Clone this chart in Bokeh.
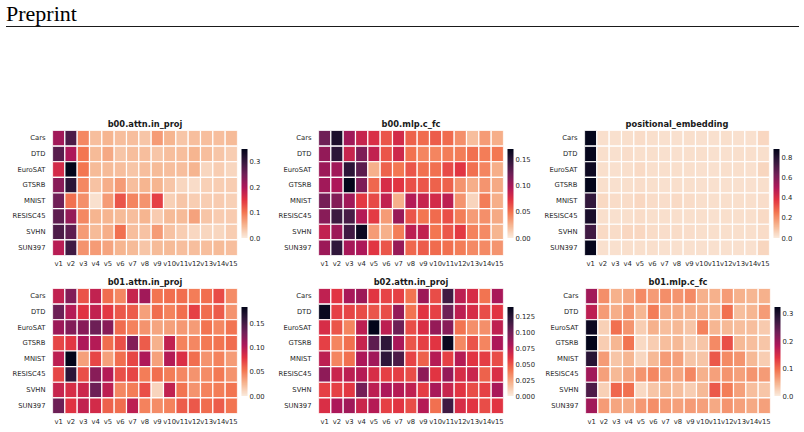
import numpy as np
from bokeh.plotting import figure
from bokeh.models import (ColumnDataSource, LinearColorMapper, ColorBar, FixedTicker,
                          PrintfTickFormatter, Div, Spacer)
from bokeh.layouts import column, row
from bokeh.embed import file_html
from bokeh.resources import INLINE
from bokeh.transform import transform

# ---------------------------------------------------------------- data
tasks = ["Cars", "DTD", "EuroSAT", "GTSRB", "MNIST", "RESISC45", "SVHN", "SUN397"]
vectors = [f"v{i}" for i in range(1, 16)]

b00_attn_in_proj = [
    [0.210, 0.280, 0.087, 0.042, 0.050, 0.042, 0.042, 0.035, 0.070, 0.050, 0.035, 0.042, 0.042, 0.042, 0.045],
    [0.270, 0.200, 0.100, 0.045, 0.060, 0.035, 0.042, 0.042, 0.035, 0.042, 0.042, 0.050, 0.042, 0.035, 0.028],
    [0.165, 0.350, 0.100, 0.045, 0.045, 0.042, 0.035, 0.042, 0.045, 0.042, 0.042, 0.050, 0.020, 0.028, 0.020],
    [0.230, 0.310, 0.085, 0.038, 0.055, 0.070, 0.042, 0.050, 0.050, 0.035, 0.020, 0.014, 0.025, 0.028, 0.028],
    [0.250, 0.105, 0.080, 0.010, 0.070, 0.125, 0.088, 0.077, 0.140, 0.025, 0.035, 0.028, 0.028, 0.030, 0.025],
    [0.265, 0.220, 0.085, 0.050, 0.050, 0.045, 0.042, 0.050, 0.030, 0.045, 0.045, 0.065, 0.035, 0.030, 0.030],
    [0.280, 0.265, 0.070, 0.045, 0.055, 0.105, 0.042, 0.038, 0.070, 0.038, 0.028, 0.018, 0.020, 0.020, 0.028],
    [0.190, 0.290, 0.077, 0.070, 0.063, 0.050, 0.045, 0.035, 0.045, 0.045, 0.042, 0.042, 0.042, 0.045, 0.042],
]

b00_mlp_c_fc = [
    [0.122, 0.158, 0.102, 0.085, 0.077, 0.061, 0.080, 0.056, 0.053, 0.058, 0.053, 0.039, 0.020, 0.034, 0.027],
    [0.107, 0.150, 0.085, 0.116, 0.088, 0.061, 0.082, 0.050, 0.043, 0.043, 0.046, 0.046, 0.051, 0.046, 0.048],
    [0.104, 0.102, 0.150, 0.130, 0.026, 0.056, 0.048, 0.061, 0.051, 0.051, 0.065, 0.073, 0.051, 0.043, 0.027],
    [0.102, 0.097, 0.170, 0.116, 0.054, 0.078, 0.073, 0.063, 0.060, 0.056, 0.056, 0.037, 0.027, 0.037, 0.029],
    [0.119, 0.114, 0.102, 0.071, 0.065, 0.088, 0.026, 0.094, 0.085, 0.080, 0.090, 0.037, 0.010, 0.046, 0.027],
    [0.112, 0.143, 0.138, 0.094, 0.070, 0.034, 0.105, 0.061, 0.049, 0.053, 0.063, 0.046, 0.034, 0.039, 0.029],
    [0.088, 0.104, 0.141, 0.165, 0.034, 0.026, 0.046, 0.090, 0.088, 0.049, 0.060, 0.071, 0.044, 0.041, 0.024],
    [0.104, 0.148, 0.099, 0.097, 0.073, 0.061, 0.105, 0.054, 0.058, 0.053, 0.051, 0.046, 0.041, 0.041, 0.037],
]

positional_embedding = [
    [0.875, 0.030, 0.025, 0.028, 0.035, 0.028, 0.025, 0.025, 0.028, 0.025, 0.025, 0.028, 0.025, 0.025, 0.045],
    [0.870, 0.030, 0.025, 0.032, 0.028, 0.028, 0.025, 0.025, 0.028, 0.028, 0.025, 0.025, 0.028, 0.028, 0.030],
    [0.850, 0.028, 0.025, 0.030, 0.040, 0.030, 0.028, 0.028, 0.028, 0.025, 0.025, 0.028, 0.028, 0.025, 0.050],
    [0.880, 0.028, 0.025, 0.030, 0.032, 0.028, 0.025, 0.028, 0.028, 0.025, 0.025, 0.025, 0.025, 0.025, 0.030],
    [0.760, 0.042, 0.035, 0.035, 0.045, 0.035, 0.032, 0.038, 0.035, 0.030, 0.028, 0.028, 0.030, 0.028, 0.032],
    [0.820, 0.028, 0.025, 0.030, 0.035, 0.030, 0.028, 0.030, 0.028, 0.028, 0.025, 0.028, 0.028, 0.028, 0.040],
    [0.730, 0.040, 0.035, 0.045, 0.045, 0.035, 0.032, 0.035, 0.032, 0.028, 0.028, 0.028, 0.028, 0.030, 0.035],
    [0.870, 0.025, 0.025, 0.028, 0.030, 0.028, 0.025, 0.025, 0.025, 0.025, 0.025, 0.025, 0.025, 0.025, 0.050],
]

b01_attn_in_proj = [
    [0.096, 0.124, 0.067, 0.096, 0.057, 0.046, 0.093, 0.111, 0.054, 0.056, 0.056, 0.050, 0.056, 0.070, 0.044],
    [0.133, 0.102, 0.080, 0.096, 0.078, 0.065, 0.063, 0.035, 0.057, 0.048, 0.056, 0.074, 0.057, 0.063, 0.041],
    [0.113, 0.124, 0.122, 0.133, 0.122, 0.057, 0.048, 0.041, 0.033, 0.035, 0.039, 0.037, 0.054, 0.046, 0.054],
    [0.072, 0.078, 0.105, 0.102, 0.057, 0.068, 0.124, 0.063, 0.028, 0.096, 0.048, 0.046, 0.052, 0.054, 0.057],
    [0.098, 0.185, 0.035, 0.072, 0.035, 0.056, 0.072, 0.105, 0.035, 0.102, 0.083, 0.056, 0.041, 0.048, 0.037],
    [0.072, 0.163, 0.068, 0.122, 0.102, 0.068, 0.072, 0.050, 0.056, 0.050, 0.046, 0.041, 0.044, 0.052, 0.041],
    [0.093, 0.085, 0.091, 0.133, 0.098, 0.046, 0.050, 0.068, 0.011, 0.096, 0.054, 0.041, 0.048, 0.050, 0.054],
    [0.133, 0.080, 0.096, 0.087, 0.061, 0.057, 0.098, 0.048, 0.044, 0.048, 0.063, 0.065, 0.057, 0.063, 0.054],
]

b02_attn_in_proj = [
    [0.073, 0.060, 0.081, 0.085, 0.060, 0.055, 0.056, 0.041, 0.085, 0.052, 0.116, 0.074, 0.064, 0.041, 0.081],
    [0.137, 0.056, 0.055, 0.052, 0.050, 0.052, 0.088, 0.041, 0.060, 0.056, 0.101, 0.074, 0.064, 0.052, 0.060],
    [0.064, 0.050, 0.035, 0.074, 0.140, 0.074, 0.101, 0.052, 0.063, 0.088, 0.092, 0.041, 0.032, 0.032, 0.073],
    [0.056, 0.035, 0.042, 0.070, 0.106, 0.123, 0.081, 0.050, 0.056, 0.060, 0.137, 0.034, 0.050, 0.035, 0.080],
    [0.074, 0.035, 0.042, 0.080, 0.084, 0.123, 0.112, 0.055, 0.046, 0.077, 0.056, 0.077, 0.060, 0.057, 0.052],
    [0.090, 0.069, 0.074, 0.077, 0.064, 0.056, 0.057, 0.052, 0.090, 0.060, 0.088, 0.064, 0.069, 0.046, 0.063],
    [0.056, 0.056, 0.059, 0.098, 0.074, 0.080, 0.077, 0.073, 0.057, 0.081, 0.070, 0.060, 0.052, 0.056, 0.081],
    [0.063, 0.080, 0.084, 0.069, 0.077, 0.056, 0.060, 0.052, 0.077, 0.042, 0.116, 0.064, 0.060, 0.052, 0.060],
]

b01_mlp_c_fc = [
    [0.195, 0.075, 0.049, 0.058, 0.078, 0.065, 0.075, 0.071, 0.078, 0.049, 0.049, 0.065, 0.049, 0.045, 0.049],
    [0.172, 0.065, 0.052, 0.071, 0.045, 0.088, 0.055, 0.055, 0.052, 0.052, 0.045, 0.097, 0.039, 0.045, 0.065],
    [0.315, 0.023, 0.097, 0.071, 0.026, 0.049, 0.039, 0.042, 0.032, 0.084, 0.045, 0.042, 0.039, 0.039, 0.029],
    [0.325, 0.026, 0.045, 0.094, 0.016, 0.026, 0.039, 0.042, 0.026, 0.032, 0.078, 0.120, 0.042, 0.039, 0.032],
    [0.290, 0.065, 0.032, 0.045, 0.019, 0.042, 0.065, 0.062, 0.032, 0.032, 0.114, 0.078, 0.071, 0.042, 0.026],
    [0.195, 0.062, 0.042, 0.058, 0.071, 0.081, 0.062, 0.058, 0.081, 0.049, 0.062, 0.071, 0.062, 0.071, 0.065],
    [0.260, 0.023, 0.104, 0.097, 0.016, 0.032, 0.045, 0.039, 0.026, 0.042, 0.114, 0.088, 0.062, 0.039, 0.032],
    [0.195, 0.065, 0.058, 0.055, 0.068, 0.075, 0.065, 0.062, 0.065, 0.062, 0.055, 0.071, 0.062, 0.055, 0.062],
]

# colour-bar tick values for each panel
ticks_b00_attn = [0.0, 0.1, 0.2, 0.3]
ticks_b00_mlp = [0.0, 0.05, 0.10, 0.15]
ticks_pos = [0.0, 0.2, 0.4, 0.6, 0.8]
ticks_b01_attn = [0.0, 0.05, 0.10, 0.15]
ticks_b02_attn = [0.0, 0.025, 0.05, 0.075, 0.10, 0.125]
ticks_b01_mlp = [0.0, 0.1, 0.2, 0.3]

# ---------------------------------------------------------------- palette
# "rocket" sequential map (dark -> light), reversed so that 0 is light
ROCKET_ANCHORS = ["#03051a", "#35193e", "#701f57", "#ad1759",
                  "#e13342", "#f37651", "#f6b48f", "#faebdd"]


def build_palette(anchors, n=256):
    rgb = np.array([[int(h[i:i + 2], 16) for i in (1, 3, 5)] for h in anchors], float)
    pos = np.linspace(0, 1, len(anchors))
    t = np.linspace(0, 1, n)
    cols = np.stack([np.interp(t, pos, rgb[:, k]) for k in range(3)], axis=1)
    return ["#%02x%02x%02x" % tuple(int(round(c)) for c in rc) for rc in cols]


ROCKET_R = build_palette(ROCKET_ANCHORS)[::-1]

FONT = "DejaVu Sans"
LABEL_SIZE = "6.8px"
TEXT_COLOR = "#262626"


def heatmap(title, values, ticks, fmt, left=47):
    vals = np.asarray(values, dtype=float)
    xs, ys, vs = [], [], []
    for r, task in enumerate(tasks):
        for c, vec in enumerate(vectors):
            xs.append(vec)
            ys.append(task)
            vs.append(vals[r, c])
    src = ColumnDataSource(dict(x=xs, y=ys, v=vs))
    mapper = LinearColorMapper(palette=ROCKET_R, low=0.0, high=float(vals.max()))

    p = figure(frame_width=185, frame_height=125, x_range=vectors, y_range=tasks[::-1],
               output_backend="svg", toolbar_location=None, title=title,
               min_border_left=left, min_border_right=34,
               min_border_top=18, min_border_bottom=15)
    p.rect(x="x", y="y", width=1, height=1, source=src,
           fill_color=transform("v", mapper), line_color="white", line_width=1.2)

    p.title.align = "center"
    p.title.text_font = FONT
    p.title.text_font_size = "8.3px"
    p.title.text_font_style = "bold"
    p.title.text_color = "#1a1a1a"
    p.title.standoff = 3

    p.outline_line_color = None
    p.grid.grid_line_color = None
    p.background_fill_color = "white"
    p.border_fill_color = "white"
    for ax in (p.xaxis, p.yaxis):
        ax.axis_line_color = None
        ax.major_tick_line_color = None
        ax.minor_tick_line_color = None
        ax.major_tick_out = 0
        ax.major_tick_in = 0
        ax.minor_tick_out = 0
        ax.minor_tick_in = 0
        ax.major_label_text_font = FONT
        ax.major_label_text_font_size = LABEL_SIZE
        ax.major_label_text_color = TEXT_COLOR
    p.xaxis.major_label_standoff = 4
    p.yaxis.major_label_standoff = 7

    cb = ColorBar(color_mapper=mapper, ticker=FixedTicker(ticks=ticks),
                  formatter=PrintfTickFormatter(format=fmt),
                  width=6, height=89, location="center_left",
                  padding=4, margin=0, label_standoff=2,
                  major_tick_line_color=None, minor_tick_line_color=None,
                  bar_line_color=None, border_line_color=None,
                  background_fill_alpha=0,
                  major_label_text_font=FONT,
                  major_label_text_font_size=LABEL_SIZE,
                  major_label_text_color=TEXT_COLOR)
    p.add_layout(cb, "right")
    return p


p1 = heatmap("b00.attn.in_proj", b00_attn_in_proj, ticks_b00_attn, "%.1f")
p2 = heatmap("b00.mlp.c_fc", b00_mlp_c_fc, ticks_b00_mlp, "%.2f")
p3 = heatmap("positional_embedding", positional_embedding, ticks_pos, "%.1f")
p4 = heatmap("b01.attn.in_proj", b01_attn_in_proj, ticks_b01_attn, "%.2f")
# the wider "0.125"-style labels widen this panel, so the next one starts a bit tighter
p5 = heatmap("b02.attn.in_proj", b02_attn_in_proj, ticks_b02_attn, "%.3f")
p6 = heatmap("b01.mlp.c_fc", b01_mlp_c_fc, ticks_b01_mlp, "%.1f", left=44)

header = Div(text="Preprint", width=793, height=27, margin=(0, 0, 0, 6),
             styles={"font-family": "'Liberation Serif', serif", "font-size": "22px",
                     "line-height": "22px", "padding-top": "3px", "color": "#000",
                     "border-bottom": "1px solid #1a1a1a", "box-sizing": "border-box"})

layout = column(header, Spacer(width=804, height=85),
                row(Spacer(width=5, height=158), p1, p2, p3),
                row(Spacer(width=5, height=158), p4, p5, p6))

open("out.html", "w").write(file_html(layout, INLINE))
